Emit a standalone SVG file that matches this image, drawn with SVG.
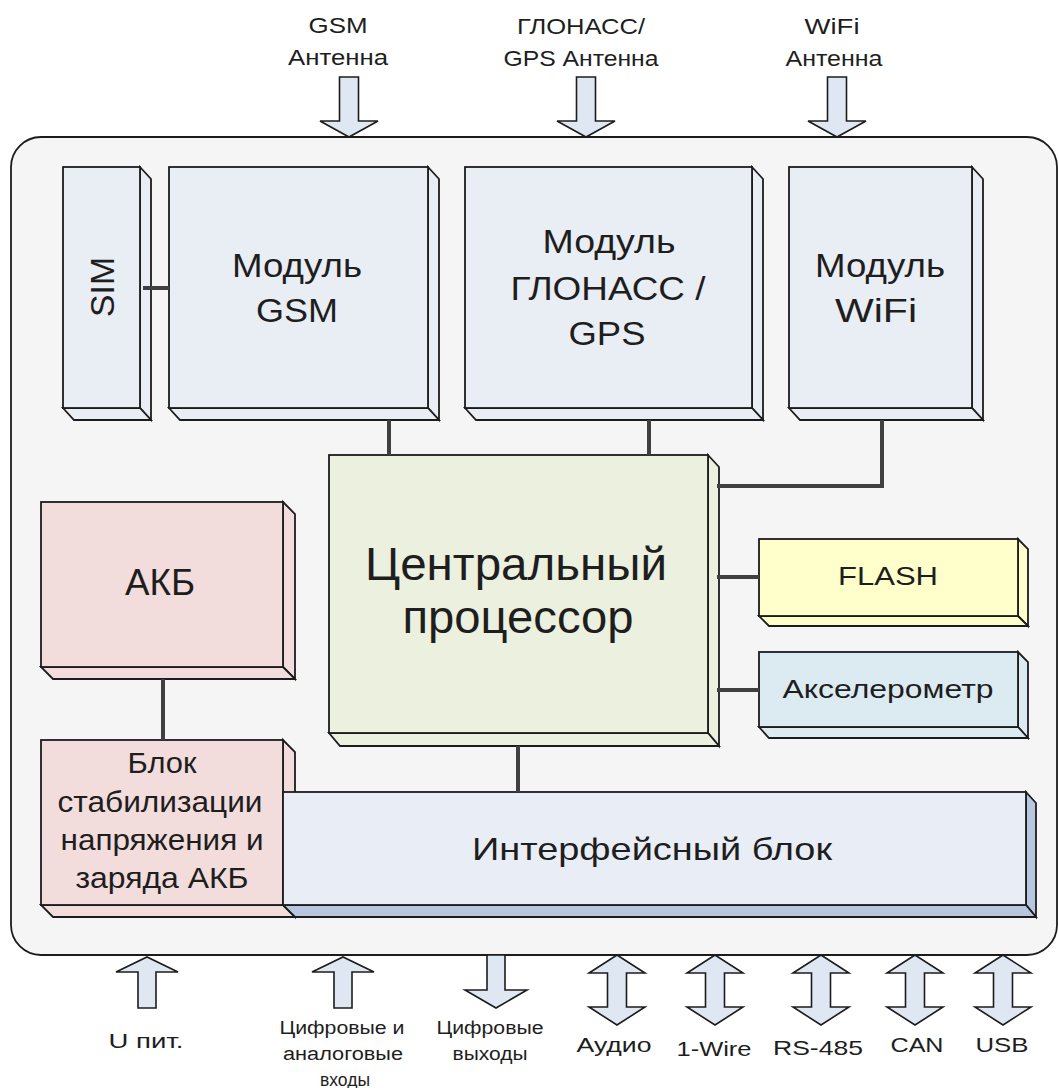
<svg xmlns="http://www.w3.org/2000/svg" width="1059" height="1088" viewBox="0 0 1059 1088">
<style>
text{font-family:"Liberation Sans",Arial,sans-serif;fill:#1e1e1e;text-anchor:middle}
.ln{stroke:#1c1c1c;stroke-width:1.8;stroke-linejoin:miter}
.mod{fill:#e9edf4}
.cpu{fill:#ebf0df}
.pink{fill:#f2dddc}
.flash{fill:#ffffcc}
.acc{fill:#dcebf1}
.ifc{fill:#e8edf6}
.ifcs{fill:#b8c7e0}
.arr{fill:#dfe7f2;stroke:#1c1c1c;stroke-width:1.6;stroke-linejoin:miter}
.con{fill:none;stroke:#404040;stroke-width:4}
.lab{font-size:22px}
.bl{font-size:21px}
.bs{font-size:18px}
</style>
<rect width="1059" height="1088" fill="#ffffff"/>
<rect id="device" x="11" y="137" width="1046" height="818" rx="30" ry="30" fill="#f5f5f5" stroke="#1c1c1c" stroke-width="1.8"/>

<g id="arrows-top">
<path class="arr" d="M339.5,77H358.5V121H378L349,137L320,121H339.5Z"/>
<path class="arr" d="M576.5,77H595.5V121H615L586,137L557,121H576.5Z"/>
<path class="arr" d="M827.5,77H846.5V121H866L837,137L808,121H827.5Z"/>
</g>
<g id="labels-top">
<text class="lab" x="338" y="33" textLength="59" lengthAdjust="spacingAndGlyphs">GSM</text>
<text class="lab" x="338" y="65" textLength="100" lengthAdjust="spacingAndGlyphs">Антенна</text>
<text class="lab" x="581" y="34" textLength="128" lengthAdjust="spacingAndGlyphs">ГЛОНАСС/</text>
<text class="lab" x="581" y="66" textLength="155" lengthAdjust="spacingAndGlyphs">GPS Антенна</text>
<text class="lab" x="832" y="34" textLength="55" lengthAdjust="spacingAndGlyphs">WiFi</text>
<text class="lab" x="834" y="66" textLength="97" lengthAdjust="spacingAndGlyphs">Антенна</text>
</g>

<g id="sim">
<polygon class="ln mod" points="140,167 151,179 151,420 140,408"/>
<polygon class="ln mod" points="63,408 140,408 151,420 74,420"/>
<rect class="ln mod" x="63" y="167" width="77" height="241"/>
<text transform="translate(114,287) rotate(-90)" font-size="34" textLength="60" lengthAdjust="spacingAndGlyphs">SIM</text>
</g>

<g id="gsm">
<polygon class="ln mod" points="428,167 439,179 439,420 428,408"/>
<polygon class="ln mod" points="169,408 428,408 439,420 180,420"/>
<rect class="ln mod" x="169" y="167" width="259" height="241"/>
<text x="297" y="277" font-size="33" textLength="130" lengthAdjust="spacingAndGlyphs">Модуль</text>
<text x="297" y="322" font-size="33" textLength="82" lengthAdjust="spacingAndGlyphs">GSM</text>
</g>

<g id="glonass">
<polygon class="ln mod" points="752,167 763,179 763,420 752,408"/>
<polygon class="ln mod" points="465,408 752,408 763,420 476,420"/>
<rect class="ln mod" x="465" y="167" width="287" height="241"/>
<text x="609" y="253" font-size="33" textLength="133" lengthAdjust="spacingAndGlyphs">Модуль</text>
<text x="608" y="300" font-size="33" textLength="195" lengthAdjust="spacingAndGlyphs">ГЛОНАСС /</text>
<text x="607" y="345" font-size="33" textLength="77" lengthAdjust="spacingAndGlyphs">GPS</text>
</g>

<g id="wifi">
<polygon class="ln mod" points="972,167 983,179 983,420 972,408"/>
<polygon class="ln mod" points="789,408 972,408 983,420 800,420"/>
<rect class="ln mod" x="789" y="167" width="183" height="241"/>
<text x="880" y="277" font-size="33" textLength="130" lengthAdjust="spacingAndGlyphs">Модуль</text>
<text x="876" y="322" font-size="33" textLength="82" lengthAdjust="spacingAndGlyphs">WiFi</text>
</g>

<g id="cpu">
<polygon class="ln cpu" points="708,455 719,467 719,746 708,733"/>
<polygon class="ln cpu" points="329,733 708,733 719,746 340,746"/>
<rect class="ln cpu" x="329" y="455" width="379" height="278"/>
<text x="516" y="580" font-size="46" textLength="302" lengthAdjust="spacingAndGlyphs">Центральный</text>
<text x="518" y="633" font-size="46" textLength="231" lengthAdjust="spacingAndGlyphs">процессор</text>
</g>

<g id="akb">
<polygon class="ln pink" points="283,502 295,514 295,679 283,667"/>
<polygon class="ln pink" points="41,667 283,667 295,679 53,679"/>
<rect class="ln pink" x="41" y="502" width="242" height="165"/>
<text x="160" y="595" font-size="36" textLength="70" lengthAdjust="spacingAndGlyphs">АКБ</text>
</g>

<g id="flash">
<polygon class="ln flash" points="1018,539 1028,549 1028,626 1018,616"/>
<polygon class="ln flash" points="759,616 1018,616 1028,626 769,626"/>
<rect class="ln flash" x="759" y="539" width="259" height="77"/>
<text x="888" y="585" font-size="26" textLength="100" lengthAdjust="spacingAndGlyphs">FLASH</text>
</g>

<g id="accel">
<polygon class="ln acc" points="1018,652 1028,662 1028,738 1018,727"/>
<polygon class="ln acc" points="759,727 1018,727 1028,738 769,738"/>
<rect class="ln acc" x="759" y="652" width="259" height="75"/>
<text x="888" y="698" font-size="26" textLength="211" lengthAdjust="spacingAndGlyphs">Акселерометр</text>
</g>

<g id="stab">
<polygon class="ln pink" points="283,740 295,752 295,917 283,905"/>
<polygon class="ln pink" points="41,905 283,905 295,917 53,917"/>
<rect class="ln pink" x="41" y="740" width="242" height="165"/>
<text x="162" y="773" font-size="30" textLength="69" lengthAdjust="spacingAndGlyphs">Блок</text>
<text x="160" y="812" font-size="30" textLength="205" lengthAdjust="spacingAndGlyphs">стабилизации</text>
<text x="162" y="850" font-size="30" textLength="203" lengthAdjust="spacingAndGlyphs">напряжения и</text>
<text x="162" y="888" font-size="30" textLength="173" lengthAdjust="spacingAndGlyphs">заряда АКБ</text>
</g>

<g id="interface">
<polygon class="ln ifcs" points="1026,792 1036,803 1036,917 1026,905"/>
<polygon class="ln ifcs" points="283,905 1026,905 1036,917 295,917"/>
<rect class="ln ifc" x="283" y="792" width="743" height="113"/>
<text x="652" y="860" font-size="32" textLength="360" lengthAdjust="spacingAndGlyphs">Интерфейсный блок</text>
</g>

<g id="connectors">
<line class="con" x1="143" y1="288" x2="169" y2="288"/>
<line class="con" x1="389" y1="420" x2="389" y2="455"/>
<line class="con" x1="649" y1="420" x2="649" y2="455"/>
<polyline class="con" points="882,420 882,486 717,486"/>
<line class="con" x1="717" y1="577" x2="759" y2="577"/>
<line class="con" x1="717" y1="690" x2="759" y2="690"/>
<line class="con" x1="518" y1="746" x2="518" y2="792"/>
<line class="con" x1="163" y1="679" x2="163" y2="740"/>
</g>

<g id="arrows-bottom">
<path class="arr" d="M138,1008V972H116L147,957L178,972H156V1008Z"/>
<path class="arr" d="M334,1008V972H312L343,957L374,972H352V1008Z"/>
<path class="arr" d="M487,955H505V990H527L496,1008L465,990H487Z"/>
<path class="arr" d="M607.5,973H589L617,955L645,973H626.5V1007H645L617,1025L589,1007H607.5Z"/>
<path class="arr" d="M705.5,973H687L715,955L743,973H724.5V1007H743L715,1025L687,1007H705.5Z"/>
<path class="arr" d="M811.5,973H793L821,955L849,973H830.5V1007H849L821,1025L793,1007H811.5Z"/>
<path class="arr" d="M905.5,973H887L915,955L943,973H924.5V1007H943L915,1025L887,1007H905.5Z"/>
<path class="arr" d="M993.5,973H975L1003,955L1031,973H1012.5V1007H1031L1003,1025L975,1007H993.5Z"/>
</g>
<g id="labels-bottom">
<text class="bl" x="146" y="1048" textLength="75" lengthAdjust="spacingAndGlyphs">U пит.</text>
<text class="bs" x="342" y="1034" textLength="125" lengthAdjust="spacingAndGlyphs">Цифровые и</text>
<text class="bs" x="343" y="1060" textLength="120" lengthAdjust="spacingAndGlyphs">аналоговые</text>
<text class="bs" x="345" y="1086" textLength="50" lengthAdjust="spacingAndGlyphs">входы</text>
<text class="bs" x="490" y="1034" textLength="107" lengthAdjust="spacingAndGlyphs">Цифровые</text>
<text class="bs" x="490" y="1060" textLength="75" lengthAdjust="spacingAndGlyphs">выходы</text>
<text class="bl" x="614" y="1052" textLength="75" lengthAdjust="spacingAndGlyphs">Аудио</text>
<text class="bl" x="714" y="1056" textLength="75" lengthAdjust="spacingAndGlyphs">1-Wire</text>
<text class="bl" x="818" y="1055" textLength="90" lengthAdjust="spacingAndGlyphs">RS-485</text>
<text class="bl" x="917" y="1052" textLength="53" lengthAdjust="spacingAndGlyphs">CAN</text>
<text class="bl" x="1002" y="1052" textLength="53" lengthAdjust="spacingAndGlyphs">USB</text>
</g>
</svg>
